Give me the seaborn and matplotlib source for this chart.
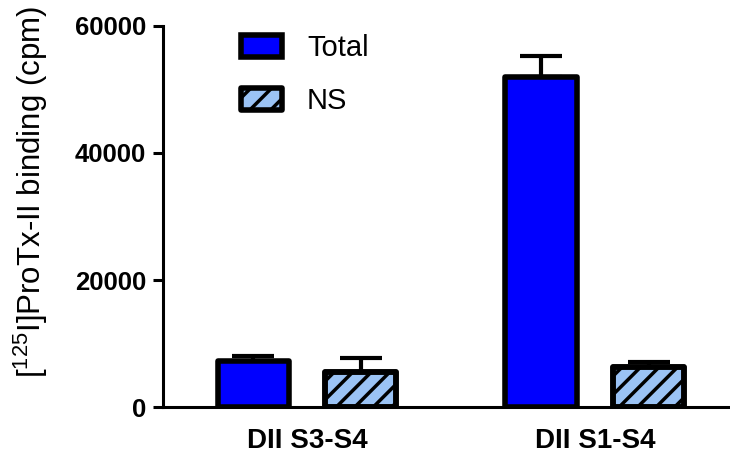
import numpy as np
import pandas as pd
import matplotlib
matplotlib.use("Agg")
import matplotlib.pyplot as plt
from matplotlib.patches import Patch, Rectangle
from matplotlib.lines import Line2D
from matplotlib.legend_handler import HandlerBase
from matplotlib.transforms import IdentityTransform
import seaborn as sns

# Binding data (mean and SEM, cpm)
constructs = ["DII S3-S4", "DII S1-S4"]
conditions = ["Total", "NS"]
total_cpm = [7300, 52000]
total_sem = [800, 3300]
ns_cpm = [5500, 6300]
ns_sem = [2200, 800]
y_ticks = [0, 20000, 40000, 60000]

sns.set_theme(style="ticks")
plt.rcParams.update({
    "font.family": ["Liberation Sans", "DejaVu Sans"],
    "mathtext.fontset": "custom",
    "mathtext.rm": "Liberation Sans",
    "text.color": "black",
    "axes.labelcolor": "black",
    "axes.edgecolor": "black",
    "xtick.color": "black",
    "ytick.color": "black",
})

df = pd.DataFrame({
    "construct": constructs * 2,
    "condition": [conditions[0]] * 2 + [conditions[1]] * 2,
    "cpm": total_cpm + ns_cpm,
})

colors = ["#0000ff", "#9bc3f5"]
STRIPE_LW = 2.5


def diag_segments(x0, y0, x1, y1, step):
    """45-degree '/' stripes clipped to the box [x0, x1] x [y0, y1]."""
    h = y1 - y0
    segs = []
    for s in np.arange(x0 - h + step / 2, x1, step):
        xa, xb = max(x0, s), min(x1, s + h)
        if xb > xa:
            segs.append(((xa, y0 + xa - s), (xb, y0 + xb - s)))
    return segs


class StripedHandler(HandlerBase):
    def create_artists(self, legend, orig_handle, xdescent, ydescent,
                       width, height, fontsize, trans):
        x0, y0 = -xdescent, -ydescent
        arts = [Rectangle((x0, y0), width, height, facecolor=orig_handle.get_facecolor(),
                          edgecolor="none", transform=trans)]
        for (xa, ya), (xb, yb) in diag_segments(x0, y0, x0 + width, y0 + height, 15.0):
            arts.append(Line2D([xa, xb], [ya, yb], color="black", linewidth=STRIPE_LW,
                               solid_capstyle="butt", transform=trans))
        arts.append(Rectangle((x0, y0), width, height, fill=False, edgecolor="black",
                              linewidth=4, joinstyle="round", transform=trans))
        return arts


fig = plt.figure(figsize=(7.3, 4.65), dpi=100)
ax = fig.add_axes([163 / 730, 1 - 407 / 465, 1 - 163 / 730, (407 - 26) / 465])

sns.barplot(data=df, x="construct", y="cpm", hue="condition",
            order=constructs, hue_order=conditions, palette=colors,
            saturation=1, width=0.7465, gap=0.335, edgecolor="black",
            linewidth=4, errorbar=None, legend=False, ax=ax)

for cont in ax.containers:
    for bar in cont:
        bar.set_joinstyle("round")

ax.set_xlim(-0.5, 1.469)
ax.set_ylim(0, 60000)

# diagonal stripes on the nonspecific bars, spaced in pixels
for bar in ax.containers[1]:
    (px0, py0), (px1, py1) = ax.transData.transform(
        [(bar.get_x(), 0), (bar.get_x() + bar.get_width(), bar.get_height())])
    z = bar.get_zorder()
    for (xa, ya), (xb, yb) in diag_segments(px0, py0, px1, py1, 18.5):
        ax.add_line(Line2D([xa, xb], [ya, yb], transform=IdentityTransform(),
                           color="black", linewidth=STRIPE_LW,
                           solid_capstyle="butt", zorder=z + 0.01))
    # outline drawn again above the stripes
    ax.add_patch(Rectangle((bar.get_x(), 0), bar.get_width(), bar.get_height(),
                           fill=False, edgecolor="black", linewidth=4,
                           joinstyle="round", zorder=z + 0.02))

# upper-only SEM bars
for cont, sems in zip(ax.containers, [total_sem, ns_sem]):
    xs = [p.get_x() + p.get_width() / 2 for p in cont]
    ys = [p.get_height() for p in cont]
    ax.errorbar(xs, ys, yerr=[np.zeros(len(sems)), sems], fmt="none",
                ecolor="black", elinewidth=3, capsize=15, capthick=3,
                zorder=0.5)

ax.set_yticks(y_ticks)
ax.set_yticklabels([str(t) for t in y_ticks], fontsize=18.5, fontweight="bold")
ax.set_xticks(range(len(constructs)))
ax.set_xticklabels(constructs, fontsize=20, fontweight="bold")
ax.tick_params(axis="x", length=0, pad=15)
ax.tick_params(axis="y", length=7, width=2.2, pad=5)
ax.set_xlabel("")
ax.set_ylabel(r"[$^{\mathregular{125}}$I]ProTx-II binding (cpm)", fontsize=22.5)
ax.yaxis.set_label_coords(-0.199, 0.564)

sns.despine(ax=ax)
for side in ["left", "bottom"]:
    ax.spines[side].set_linewidth(2.2)

handles = [Patch(facecolor=colors[0], edgecolor="black", linewidth=4, joinstyle="round"),
           Patch(facecolor=colors[1], edgecolor="black", linewidth=4, joinstyle="round")]
ax.legend(handles, conditions, frameon=False, fontsize=21, handlelength=1.42,
          handleheight=0.8, labelspacing=0.85, handletextpad=0.85,
          loc="upper left", bbox_to_anchor=(0.137, 0.978), borderaxespad=0,
          borderpad=0, handler_map={handles[1]: StripedHandler()})

fig.savefig("out.png", dpi=100)
